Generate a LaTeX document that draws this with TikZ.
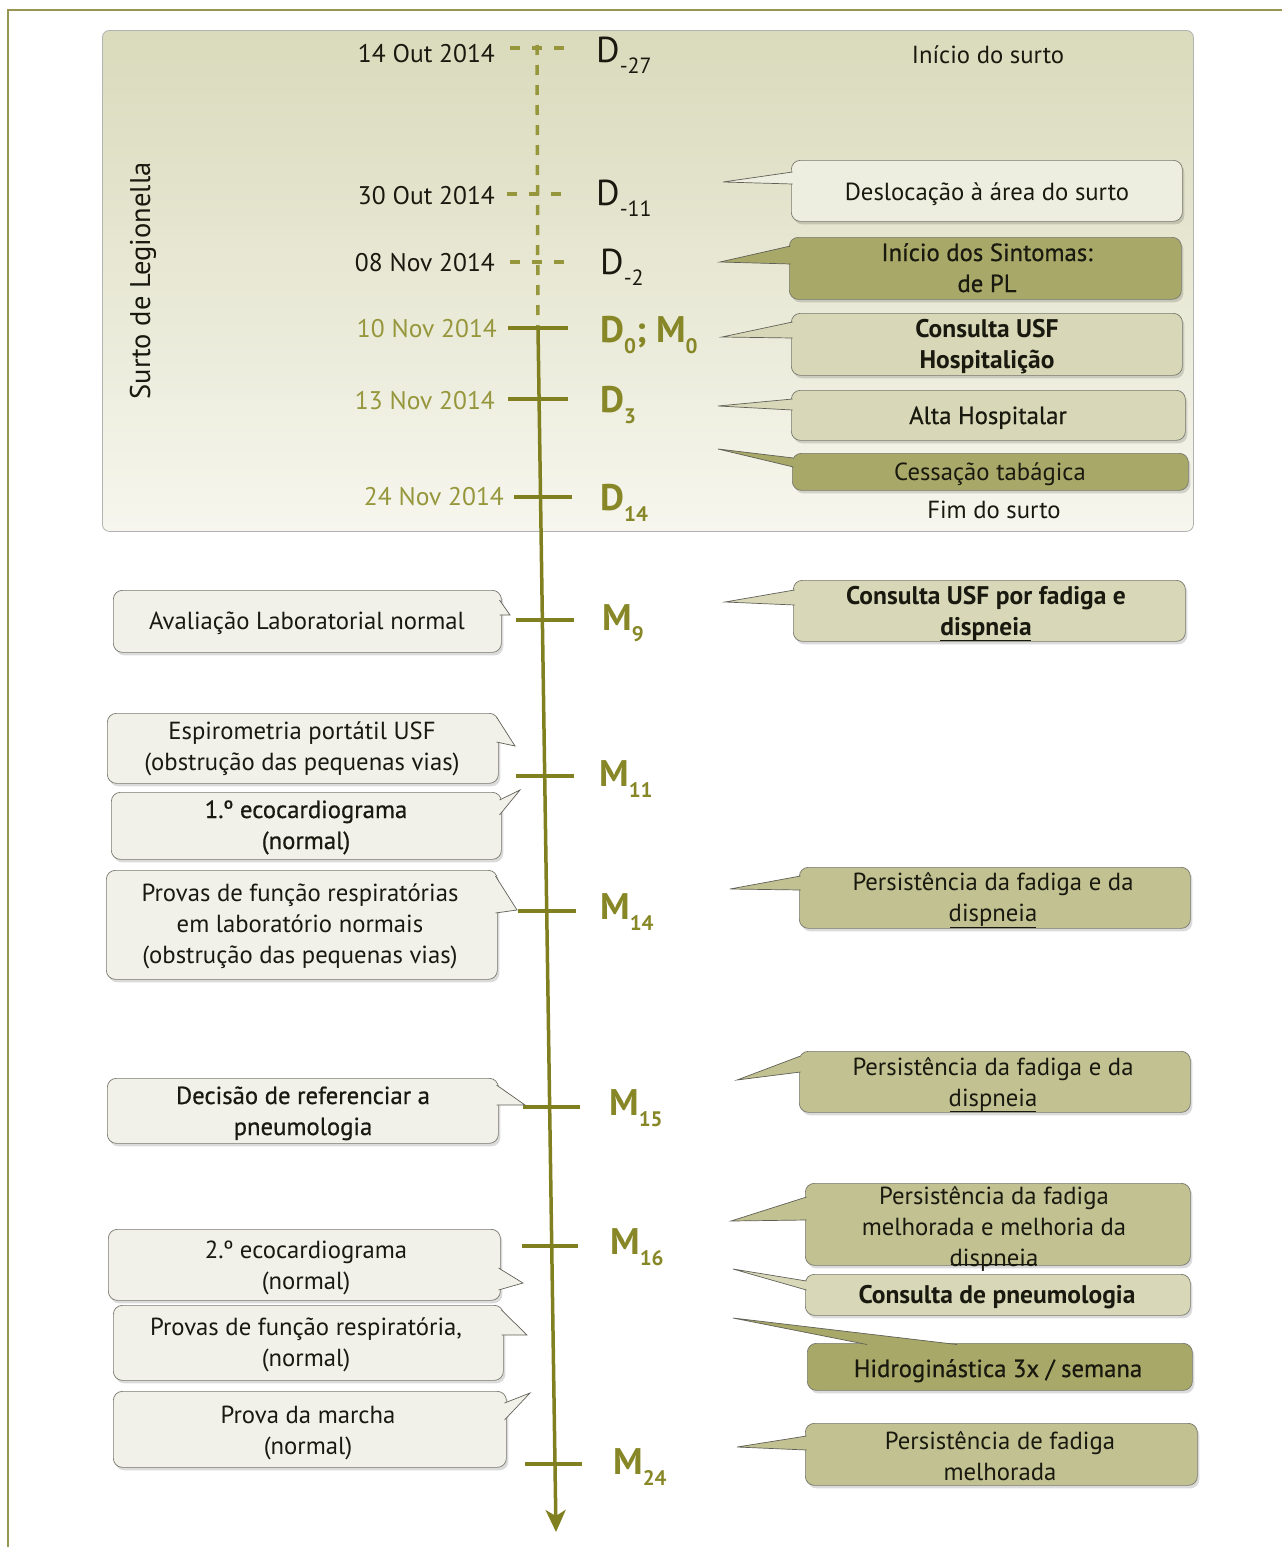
\documentclass[tikz,border=0pt]{standalone}
\usepackage{fontspec}
\setmainfont{PT Sans}
\newfontfamily\medf[FakeBold=0.6]{PT Sans}
\usetikzlibrary{arrows.meta,shadows}
\definecolor{olv}{RGB}{128,128,32}
\definecolor{olvT}{RGB}{135,135,40}
\definecolor{olvL}{RGB}{150,150,60}
\definecolor{frameC}{RGB}{150,150,80}
\definecolor{panelT}{RGB}{218,218,188}
\definecolor{panelB}{RGB}{246,246,238}
\definecolor{cLight}{RGB}{241,241,233}
\definecolor{cLightR}{RGB}{237,237,224}
\definecolor{cMed}{RGB}{216,216,184}
\definecolor{cPers}{RGB}{193,193,145}
\definecolor{cDark}{RGB}{168,168,104}
\definecolor{txtC}{RGB}{25,25,15}
\definecolor{bord}{RGB}{120,120,110}
\newcommand\ml[1]{\begin{tabular}[t]{@{}c@{}}#1\end{tabular}}
\newcommand\Dl[2]{{\fontsize{36}{36}\selectfont #1}\raisebox{-11pt}{\fontsize{22}{22}\selectfont #2}}
\newcommand\Dlb[2]{{\bfseries\fontsize{37}{37}\selectfont #1}\raisebox{-11pt}{\bfseries\fontsize{21}{21}\selectfont #2}}
\newcommand\bsz{\bfseries\fontsize{25.5}{31}\selectfont}
\tikzset{
  box/.style={draw=bord, line width=0.7pt, rounded corners=9pt, fill=#1, inner sep=0pt, anchor=north west,
    drop shadow={shadow xshift=2pt, shadow yshift=-3pt, fill=black, opacity=0.14}},
  txt/.style={anchor=base, inner sep=0pt, text=txtC, font=\fontsize{24.7}{31}\selectfont},
  date/.style={anchor=base east, inner sep=0pt, text=txtC, font=\fontsize{25.5}{25.5}\selectfont},
  dlab/.style={anchor=base west, inner sep=0pt, text=txtC},
  ptrline/.style={draw=bord!80!black, line width=0.7pt},
  uline/.style={draw=txtC, line width=1pt},
  tick/.style={draw=olv, line width=4pt},
  dtick/.style={draw=olvL, line width=4pt, dash pattern=on 10pt off 12pt},
}
\newcommand\ptr[4]{\fill[#1] #2 -- #3 -- #4 -- cycle; \draw[ptrline] #2 -- #3 -- #4;}
\begin{document}
\begin{tikzpicture}[x=1pt,y=-1pt]
\useasboundingbox (0,0) rectangle (1282,1547);
% frame
\draw[frameC, line width=1.5pt] (1282,10) -- (8,10) -- (8,1547);
% panel
\node[draw=gray!60, line width=0.8pt, rounded corners=7pt, top color=panelT, bottom color=panelB,
  minimum width=1091pt, minimum height=501pt, inner sep=0pt, anchor=north west] (panel) at (102,30) {};
\node[rotate=90, inner sep=0pt, text=txtC, font=\fontsize{28.5}{28.5}\selectfont] (surto) at (143,281) {Surto de Legionella};
\node[txt] (ini) at (988,63) {Início do surto};
\node[txt] (fim) at (994,518) {Fim do surto};

% timeline
\coordinate (ttop) at (537,45);
\coordinate (t0) at (538,328);
\coordinate (tend) at (556,1532);
\draw[draw=olvL, line width=3.5pt, dash pattern=on 10pt off 10pt] (ttop) -- (t0);
\draw[draw=olv, line width=3.5pt, -{Stealth[length=22pt, width=20pt, inset=6pt]}] (t0) -- (tend);

% dashed ticks
\draw[dtick] (510,48) -- (568,48);
\draw[dtick] (507,194) -- (565,194);
\draw[dtick] (510,262) -- (568,262);
% solid ticks
\draw[tick] (508,328) -- (568,328);
\draw[tick] (508,399) -- (568,399);
\draw[tick] (514,497) -- (572,497);
\draw[tick] (516,620) -- (574,620);
\draw[tick] (516,776) -- (574,776);
\draw[tick] (518,911) -- (576,911);
\draw[tick] (523,1107) -- (580,1107);
\draw[tick] (522,1246) -- (578,1246);
\draw[tick] (525,1464) -- (582,1464);

% dates
\node[date] (da1) at (495,62) {14 Out 2014};
\node[date] (da2) at (495,204) {30 Out 2014};
\node[date] (da3) at (495,271) {08 Nov 2014};
\node[date, text=olvL] (da4) at (497,337) {10 Nov 2014};
\node[date, text=olvL] (da5) at (495,409) {13 Nov 2014};
\node[date, text=olvL] (da6) at (504,505) {24 Nov 2014};

% D / M labels
\node[dlab] (l1) at (596,62) {\Dl{D}{-27}};
\node[dlab] (l2) at (596,205) {\Dl{D}{-11}};
\node[dlab] (l3) at (600,274) {\Dl{D}{-2}};
\node[dlab, text=olvT] (l4) at (600,342) {\Dlb{D}{0}{\bfseries\fontsize{37}{37}\selectfont; }\Dlb{M}{0}};
\node[dlab, text=olvT] (l5) at (600,412) {\Dlb{D}{3}};
\node[dlab, text=olvT] (l6) at (600,510) {\Dlb{D}{14}};
\node[dlab, text=olvT] (l7) at (602,630) {\Dlb{M}{9}};
\node[dlab, text=olvT] (l8) at (599,786) {\Dlb{M}{11}};
\node[dlab, text=olvT] (l9) at (600,919) {\Dlb{M}{14}};
\node[dlab, text=olvT] (l10) at (609,1115) {\Dlb{M}{15}};
\node[dlab, text=olvT] (l11) at (610,1254) {\Dlb{M}{16}};
\node[dlab, text=olvT] (l12) at (613,1474) {\Dlb{M}{24}};

% ---------- right callouts ----------
\node[box=cLightR, minimum width=391pt, minimum height=61pt] (r1) at (791,160) {};
\ptr{cLightR}{(792.5,172)}{(723,182)}{(792.5,184)}
\node[txt] (r1t) at (987,200) {Deslocação à área do surto};

\node[box=cDark, minimum width=392pt, minimum height=62pt] (r2) at (789,237) {};
\ptr{cDark}{(790.5,246)}{(720,262)}{(790.5,264)}
\node[txt] (r2t) at (987,261) {\medf\ml{Início dos Sintomas:\\de PL}};

\node[box=cMed, minimum width=391pt, minimum height=62pt] (r3) at (791,313) {};
\ptr{cMed}{(792.5,322)}{(722,337)}{(792.5,338)}
\node[txt] (r3t) at (987,337) {\bsz\ml{Consulta USF\\Hospitalição}};

\node[box=cMed, minimum width=394pt, minimum height=50pt] (r4) at (791,390) {};
\ptr{cMed}{(792.5,399)}{(718,406)}{(792.5,410)}
\node[txt] (r4t) at (988,424) {\medf Alta Hospitalar};

\node[box=cDark, minimum width=396pt, minimum height=37pt] (r5) at (792,453) {};
\ptr{cDark}{(793.5,458)}{(718,449)}{(793.5,467)}
\node[txt] (r5t) at (990,480) {Cessação tabágica};

\node[box=cMed, minimum width=392pt, minimum height=61pt] (r6) at (793,580) {};
\ptr{cMed}{(794.5,590)}{(725,602)}{(794.5,605)}
\node[txt] (r6t) at (986,604) {\bsz\ml{Consulta USF por fadiga e\\dispneia}};
\draw[uline] (940,640) -- (1031,640);

\node[box=cPers, minimum width=391pt, minimum height=61pt] (r7) at (799,867) {};
\ptr{cPers}{(800.5,876)}{(730,889)}{(800.5,890)}
\node[txt] (r7t) at (993,890) {\ml{Persistência da fadiga e da\\dispneia}};
\draw[uline] (950,927) -- (1036,927);

\node[box=cPers, minimum width=391pt, minimum height=61pt] (r8) at (799,1051) {};
\ptr{cPers}{(800.5,1056)}{(737,1080)}{(800.5,1072)}
\node[txt] (r8t) at (993,1075) {\ml{Persistência da fadiga e da\\dispneia}};
\draw[uline] (950,1111) -- (1036,1111);

\node[box=cPers, minimum width=385pt, minimum height=82pt] (r9) at (805,1183) {};
\ptr{cPers}{(806.5,1197)}{(731,1221)}{(806.5,1220)}
\node[txt] (r9t) at (994,1204) {\ml{Persistência da fadiga\\melhorada e melhoria da\\dispneia}};
\draw[uline] (951,1264) -- (1037,1264);

\node[box=cMed, minimum width=385pt, minimum height=41pt] (r10) at (805,1274) {};
\ptr{cMed}{(806.5,1281)}{(733,1269)}{(806.5,1290)}
\node[txt] (r10t) at (997,1303) {\bsz Consulta de pneumologia};

\node[box=cDark, minimum width=385pt, minimum height=47pt] (r11) at (807,1343) {};
\ptr{cDark}{(867,1344.5)}{(733,1318)}{(957,1344.5)}
\node[txt] (r11t) at (998,1377) {\medf Hidroginástica 3x / semana};

\node[box=cPers, minimum width=392pt, minimum height=62pt] (r12) at (805,1423) {};
\ptr{cPers}{(806.5,1436)}{(737,1447)}{(806.5,1450)}
\node[txt] (r12t) at (1000,1449) {\ml{Persistência de fadiga\\melhorada}};

% ---------- left callouts ----------
\node[box=cLight, minimum width=388pt, minimum height=62pt] (b1) at (113,590) {};
\ptr{cLight}{(499.5,600)}{(510,615)}{(499.5,615)}
\node[txt] (b1t) at (307,629) {Avaliação Laboratorial normal};

\node[box=cLight, minimum width=391pt, minimum height=70pt] (b2) at (107,713) {};
\ptr{cLight}{(496.5,717)}{(515,746)}{(496.5,742)}
\node[txt] (b2t) at (302,739) {\ml{Espirometria portátil USF\\(obstrução das pequenas vias)}};

\node[box=cLight, minimum width=390pt, minimum height=67pt] (b3) at (111,792) {};
\ptr{cLight}{(499.5,800)}{(520,790)}{(499.5,815)}
\node[txt] (b3t) at (306,818) {\medf\ml{1.º ecocardiograma\\(normal)}};

\node[box=cLight, minimum width=391pt, minimum height=109pt] (b4) at (106,870) {};
\ptr{cLight}{(495.5,876)}{(517,910)}{(495.5,913)}
\node[txt] (b4t) at (300,901) {\ml{Provas de função respiratórias\\em laboratório normais\\(obstrução das pequenas vias)}};

\node[box=cLight, minimum width=391pt, minimum height=65pt] (b5) at (107,1078) {};
\ptr{cLight}{(496.5,1085)}{(525,1105)}{(496.5,1105)}
\node[txt] (b5t) at (303,1104) {\medf\ml{Decisão de referenciar a\\pneumologia}};

\node[box=cLight, minimum width=392pt, minimum height=71pt] (b6) at (108,1229) {};
\ptr{cLight}{(498.5,1268)}{(523,1283)}{(498.5,1290)}
\node[txt] (b6t) at (306,1258) {\ml{2.º ecocardiograma\\(normal)}};

\node[box=cLight, minimum width=390pt, minimum height=75pt] (b7) at (113,1305) {};
\ptr{cLight}{(501.5,1310)}{(527,1335)}{(501.5,1335)}
\node[txt] (b7t) at (306,1335) {\ml{Provas de função respiratória,\\(normal)}};

\node[box=cLight, minimum width=393pt, minimum height=76pt] (b8) at (113,1391) {};
\ptr{cLight}{(504.5,1403)}{(530,1393)}{(504.5,1420)}
\node[txt] (b8t) at (308,1423) {\ml{Prova da marcha\\(normal)}};
\end{tikzpicture}
\end{document}
